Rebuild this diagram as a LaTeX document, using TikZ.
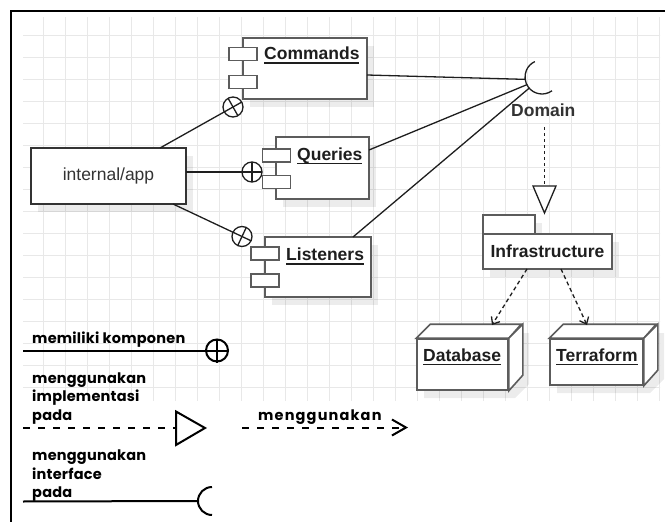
\documentclass[tikz,border=0pt]{standalone}
\usepackage{fontspec}
\setmainfont{Liberation Sans}
\newfontfamily\legendfont[LetterSpace=1.5]{Poppins}
\newfontfamily\legendwidefont[LetterSpace=8]{Poppins}
\usetikzlibrary{arrows.meta,calc,shadows}
\definecolor{gridline}{HTML}{E8E8E8}
\definecolor{boxline}{HTML}{5C5C5C}
\definecolor{ink}{HTML}{1E1E1E}
\definecolor{softink}{HTML}{333333}
% underlined label: a rule drawn just under the baseline
\newcommand\ulabel[1]{\setbox0=\hbox{#1}\rlap{\vrule width\wd0 height -2.6pt depth 4.1pt}\box0}
% nesting connector: line into a circle plus the crossing bar
\newcommand\nestlink[3]{%
  \draw[#3] (#1) -- ($(#2.center)!-10pt!(#1)$);
  \draw[#3] ($(#2.center)!10pt!90:(#1)$) -- ($(#2.center)!10pt!-90:(#1)$);}
\begin{document}
\begin{tikzpicture}[x=1pt,y=-1pt,
  comp/.style={draw=boxline, line width=1.6pt, fill=white, inner sep=0pt},
  shadowed/.style={drop shadow={shadow xshift=7pt, shadow yshift=-8pt, fill=black, opacity=0.075}},
  port/.style={draw=boxline, line width=1.6pt, fill=white, minimum width=28pt, minimum height=13pt, inner sep=0pt},
  wire/.style={draw=ink, line width=1.3pt},
  dep/.style={wire, dash pattern=on 4pt off 3pt, -{Straight Barb[length=6pt,width=10pt]}},
  xcirc/.style={circle, draw=ink, line width=1.3pt, fill=white, minimum size=20pt, inner sep=0pt},
  compname/.style={inner sep=0pt, anchor=base west, text=ink, font=\fontsize{17.5}{20}\selectfont\bfseries},
  legtext/.style={inner sep=0pt, anchor=base west, text=black, align=left, font=\fontsize{14.5}{18.5}\selectfont\legendfont\bfseries},
  legwide/.style={inner sep=0pt, anchor=base west, text=black, font=\fontsize{14.5}{18.5}\selectfont\legendwidefont\bfseries},
  legline/.style={draw=black, line width=2pt},
]
\useasboundingbox (0,0) rectangle (665,522);

% background grid
\begin{scope}
  \clip (23,17) rectangle (660,400);
  \draw[gridline, line width=0.9pt, shift={(21.3,13)}, xstep=22pt, ystep=22pt] (0,0) grid (660,400);
\end{scope}

% frame
\draw[line width=2pt, black] (10.5,530) -- (10.5,10.5) -- (670,10.5);

% application box
\node[comp, draw=softink, line width=1.8pt, shadowed, minimum width=155pt, minimum height=56pt,
      text=softink, font=\fontsize{17.5}{20}\selectfont] (app) at (108.5,176) {internal/app};

% components
\node[comp, shadowed, minimum width=124pt, minimum height=61pt] (cmd) at (305,68.5) {};
\node[port] (cmdp1) at (243,54) {};
\node[port] (cmdp2) at (243,82) {};
\node[compname] (cmdl) at (264,59.5) {\ulabel{Commands}};

\node[comp, shadowed, minimum width=93pt, minimum height=62pt] (qry) at (322.5,168) {};
\node[port] (qryp1) at (276.5,155.5) {};
\node[port] (qryp2) at (276.5,182) {};
\node[compname] (qryl) at (297,160) {\ulabel{Queries}};

\node[comp, shadowed, minimum width=106pt, minimum height=60pt] (lst) at (318,267) {};
\node[port] (lstp1) at (265,253.5) {};
\node[port] (lstp2) at (265,280.5) {};
\node[compname] (lstl) at (286,260.5) {\ulabel{Listeners}};

% nesting links from the application
\coordinate (appN) at (160,148);
\coordinate (appE) at (186,172);
\coordinate (appS) at (173,204);
\node[xcirc] (cmdx) at (233,107) {};
\node[xcirc] (qryx) at (252,172) {};
\node[xcirc] (lstx) at (242,236.5) {};
\nestlink{appN}{cmdx}{wire}
\nestlink{appE}{qryx}{wire}
\nestlink{appS}{lstx}{wire}

% Domain interface socket
\coordinate (domc) at (542,77);
\draw[wire] ([shift={(54:17)}]domc) arc[start angle=54, end angle=245, radius=17];
\coordinate (dom1) at ($(domc)+(172:17)$);
\coordinate (dom2) at ($(domc)+(153:17)$);
\coordinate (dom3) at ($(domc)+(139:17)$);
\node[compname, text=softink] (domlbl) at (511,116.5) {Domain};
\coordinate (cmdE) at (367,75);
\coordinate (qryE) at (369,150);
\coordinate (lstN) at (353,237);
\draw[wire] (cmdE) -- (dom1);
\draw[wire] (qryE) -- (dom2);
\draw[wire] (lstN) -- (dom3);

% realization towards the infrastructure package
\coordinate (domS) at (544.5,127);
\coordinate (realtop) at (544.5,186);
\draw[wire, dash pattern=on 3pt off 3pt] (domS) -- (realtop);
\draw[wire, fill=white] (533,186) -- (556,186) -- (544.5,213) -- cycle;

% infrastructure package
\node[comp, shadowed, minimum width=52pt, minimum height=19pt] (inftab) at (509,224.5) {};
\node[comp, shadowed, minimum width=129pt, minimum height=35pt, text=ink,
      font=\fontsize{17.5}{20}\selectfont\bfseries] (infra) at (547.5,251.5) {Infrastructure};

% deployment nodes
\fill[black, opacity=0.075] (424,347) -- (438,333) -- (529,333) -- (529,384) -- (515,398) -- (424,398) -- cycle;
\fill[black, opacity=0.075] (557,347) -- (571,333) -- (664,333) -- (664,379) -- (650,393) -- (557,393) -- cycle;

\node[comp, minimum width=91pt, minimum height=51pt] (db) at (462.5,364.5) {};
\draw[comp] (db.north west) -- ++(14,-14) -- ++(91,0) -- (db.north east) -- cycle;
\draw[comp] (db.north east) -- ++(14,-14) -- ++(0,51) -- (db.south east) -- cycle;
\node[compname] (dbl) at (423,361) {\ulabel{Database}};

\node[comp, minimum width=93pt, minimum height=46pt] (tf) at (596.5,362) {};
\draw[comp] (tf.north west) -- ++(14,-14) -- ++(93,0) -- (tf.north east) -- cycle;
\draw[comp] (tf.north east) -- ++(14,-14) -- ++(0,46) -- (tf.south east) -- cycle;
\node[compname] (tfl) at (556,361) {\ulabel{Terraform}};

\coordinate (infDB) at (527,269);
\coordinate (infTF) at (561,269);
\coordinate (dbTop) at (492,325);
\coordinate (tfTop) at (587,325);
\draw[dep] (infDB) -- (dbTop);
\draw[dep] (infTF) -- (tfTop);

% legend
\node[legtext] (leg1) at (32,343) {memiliki komponen};
\coordinate (leg1a) at (23,350.5);
\node[xcirc, line width=2pt, draw=black, minimum size=22pt] (leg1x) at (217,350.5) {};
\draw[legline] (leg1a) -- (leg1x.east);
\draw[legline] (leg1x.north) -- (leg1x.south);

\node[legtext] (leg2) at (32,420) {menggunakan\\implementasi\\pada};
\coordinate (leg2a) at (23,428);
\coordinate (leg2t) at (176,428);
\draw[legline, dash pattern=on 6.5pt off 8.5pt] (leg2a) -- (leg2t);
\draw[legline, fill=white] (176,411.5) -- (205,428) -- (176,445) -- cycle;

\node[legwide] (leg3) at (258,420) {menggunakan};
\coordinate (leg3a) at (242,427.5);
\coordinate (leg3b) at (408,427.5);
\draw[legline, dash pattern=on 6.5pt off 8.5pt, -{Straight Barb[length=14pt,width=16pt]}] (leg3a) -- (leg3b);

\node[legtext] (leg4) at (32,497.5) {menggunakan\\interface\\pada};
\coordinate (leg4a) at (23,501.5);
\coordinate (leg4c) at (212,501);
\draw[legline] (leg4a) -- ($(leg4c)+(180:14)$);
\draw[legline] ([shift={(90:14)}]leg4c) arc[start angle=90, end angle=270, radius=14];
\end{tikzpicture}
\end{document}
